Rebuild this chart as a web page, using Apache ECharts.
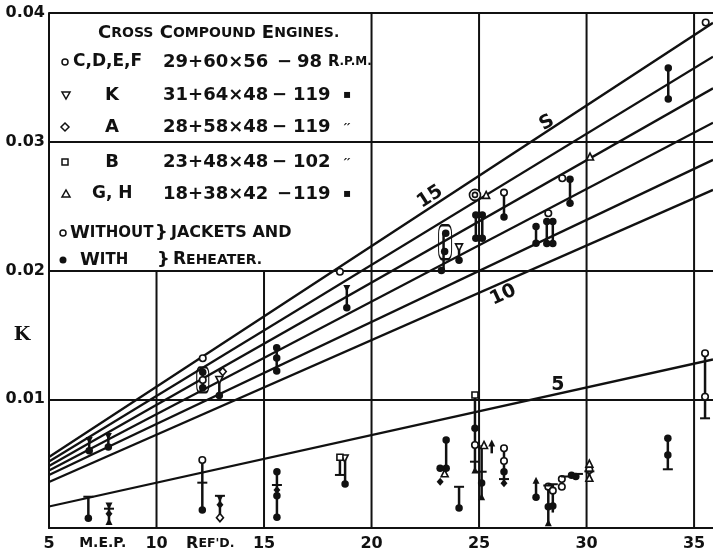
<!DOCTYPE html>
<html><head><meta charset="utf-8">
<script src="https://cdn.jsdelivr.net/npm/echarts@6/dist/echarts.min.js"></script>
<style>html,body{margin:0;padding:0;background:#fff}#c{width:713px;height:553px}</style>
</head><body><div id="c"></div>
<script>
// ---------- DATA ----------
const xTickLabels = {5:'5', 7.5:'M.E.P.', 10:'10', 12.5:"REF'D.", 15:'15', 20:'20', 25:'25', 30:'30', 35:'35'};
const yTickLabels = {0.01:'0.01', 0.02:'0.02', 0.03:'0.03', 0.04:'0.04'};
// reference lines (K vs M.E.P.) : value at left end (x=5) and right end of plot
const lineEndX = [5, 35.88];
const lineLeftY  = [0.00552, 0.00517, 0.00482, 0.00447, 0.00412, 0.00357, 0.00167];
const lineRightY = [0.03924, 0.03660, 0.03415, 0.03147, 0.02859, 0.02626, 0.01309];
// vertical grid lines: x position and top value
const gridX   = [10, 15, 20, 25, 30, 35];
const gridTop = [0.02, 0.02, 0.04, 0.04, 0.04, 0.04];
// line annotations
const annText = ['15', 'S', '10', '5'];
const annX = [22.72, 28.16, 26.12, 28.67];
const annY = [0.02572, 0.03147, 0.0181, 0.01111];
// vertical connecting bars [x, yLow, yHigh]
const bars = [
 [6.87,0.0060,0.0068],[7.76,0.0063,0.0071],[6.83,0.00075,0.00243],[7.79,0.0005,0.0017],
 [12.15,0.0109,0.0121],[12.92,0.0103,0.0115],[12.13,0.0014,0.00528],[12.95,0.0008,0.0025],
 [15.59,0.0122,0.0140],[15.6,0.00083,0.00437],[18.85,0.0171,0.0186],[18.53,0.0041,0.0055],[18.77,0.0034,0.0054],
 [23.35,0.0200,0.0229],[24.07,0.0208,0.0218],[24.85,0.02251,0.02432],[25.15,0.02251,0.02432],[26.16,0.02416,0.02605],
 [27.65,0.02212,0.02341],[28.15,0.0221,0.0238],[28.43,0.0221,0.0238],[29.23,0.02523,0.02709],[33.8,0.03333,0.03572],
 [23.47,0.00464,0.00684],[24.07,0.00155,0.0032],[24.81,0.00451,0.01033],[25.12,0.00243,0.00645],[25.59,0.0058,0.0066],
 [26.16,0.0035,0.0062],[27.65,0.00239,0.0037],[28.22,0.0004,0.0033],[28.43,0.0012,0.0034],[30.13,0.0039,0.0050],
 [33.78,0.00456,0.00697],[35.51,0.00852,0.01357]
];
const openCircles = [[12.15,0.01318],[12.15,0.0115],[18.53,0.0199],[26.16,0.02605],[28.22,0.02445],[28.87,0.02717],[35.54,0.03926],
 [12.13,0.00528],[24.81,0.00645],[26.16,0.00619],[26.16,0.0052],[28.22,0.00321],[28.43,0.0029],[28.85,0.0038],[28.85,0.0032],
 [30.13,0.0045],[35.51,0.01357],[35.51,0.0102]];
const filledCircles = [[6.87,0.0060],[7.76,0.0063],[12.15,0.0121],[12.15,0.0109],[12.92,0.0103],[15.59,0.0140],[15.59,0.0132],[15.59,0.0122],
 [18.85,0.0171],[23.45,0.0229],[23.4,0.02147],[23.25,0.0200],[24.07,0.0208],[24.85,0.02432],[24.85,0.02251],[25.15,0.02432],[25.15,0.02251],
 [26.16,0.02416],[27.65,0.02341],[27.65,0.02212],[28.15,0.0238],[28.15,0.0221],[28.43,0.0238],[28.43,0.0221],[29.23,0.02709],[29.23,0.02523],
 [33.8,0.03572],[33.8,0.03333],
 [6.83,0.00075],[12.13,0.0014],[15.6,0.00437],[15.6,0.0025],[15.6,0.00083],[18.77,0.00342],[23.47,0.00684],[23.47,0.00464],[23.19,0.00464],
 [24.07,0.00155],[24.81,0.00775],[25.12,0.0035],[26.16,0.00437],[27.65,0.00239],[28.22,0.00166],[28.43,0.0017],[29.3,0.0041],[29.5,0.0040],
 [33.78,0.00697],[33.78,0.00567]];
const openTriangles = [[25.33,0.02587],[30.16,0.02885],[23.4,0.00425],[25.23,0.00645],[30.13,0.0050],[30.13,0.0039]];
const filledTriangles = [[7.79,0.0005],[24.81,0.00451],[25.12,0.00243],[28.22,0.0004],[27.65,0.0037],[25.59,0.0066]];
const openInvTriangles = [[12.92,0.0115],[24.07,0.0218],[18.75,0.0054]];
const filledInvTriangles = [[6.87,0.0068],[7.76,0.0071],[18.85,0.0186],[7.79,0.0017],[12.95,0.0023]];
const openDiamonds = [[13.08,0.01215],[12.95,0.0008]];
const filledDiamonds = [[7.79,0.0011],[15.6,0.00295],[23.19,0.0036],[26.16,0.00347],[12.95,0.0018]];
const openSquares = [[18.53,0.00549],[24.81,0.01033]];
const crossMarks = [[6.83,0.00243],[7.79,0.0015],[12.13,0.00352],[12.95,0.0025],[15.6,0.00334],[18.53,0.00412],[24.07,0.0032],
 [24.81,0.00515],[25.12,0.00437],[26.16,0.0038],[28.22,0.0033],[28.43,0.0034],[29.05,0.0040],[29.6,0.0042],[30.13,0.0044],
 [33.78,0.00456],[35.51,0.00852]];
const ovalMarks = [[12.15,0.0115],[23.42,0.0222]];
const bullseyeMarks = [[24.81,0.02587]];

// ---------- CHART ----------
const chart = echarts.init(document.getElementById('c'));
const F = 'DejaVu Sans';
const black = '#111';

const series = [];
for (let i = 0; i < lineLeftY.length; i++) {
  series.push({type:'line', data:[[lineEndX[0], lineLeftY[i]],[lineEndX[1], lineRightY[i]]], symbol:'none',
    lineStyle:{color:black, width:2.3}, silent:true, z:2, animation:false});
}
function segRender(width){
  return function(params, api){
    const p1 = api.coord([api.value(0), api.value(1)]);
    const p2 = api.coord([api.value(0), api.value(2)]);
    return {type:'line', shape:{x1:p1[0],y1:p1[1],x2:p2[0],y2:p2[1]}, style:{stroke:black, lineWidth:width}};
  };
}
series.push({type:'custom', data: gridX.map((x,i)=>[x,0,gridTop[i]]), renderItem: segRender(2), encode:{x:0,y:[1,2]}, z:1, silent:true, animation:false});
series.push({type:'custom', data: bars, renderItem: segRender(2.5), encode:{x:0,y:[1,2]}, z:3, silent:true, animation:false});

function sc(data, symbol, size, filled, extra){
  return Object.assign({type:'scatter', data, symbol, symbolSize:size, z:5, animation:false, silent:true,
    itemStyle:{color: filled ? black : '#fff', borderColor:black, borderWidth: filled?0:1.6, opacity:1}}, extra||{});
}
series.push(sc(ovalMarks, 'roundRect', (v,p)=> p.dataIndex===0 ? [12,25] : [13,34], false, {itemStyle:{color:'rgba(0,0,0,0)', borderColor:black, borderWidth:1.6, opacity:1}, z:4}));
series.push(sc(openCircles, 'circle', 6.5, false));
series.push(sc(filledCircles, 'circle', 7.5, true));
series.push(sc(openTriangles, 'triangle', 7, false));
series.push(sc(filledTriangles, 'triangle', 7, true));
series.push(sc(openInvTriangles, 'triangle', 7, false, {symbolRotate:180}));
series.push(sc(filledInvTriangles, 'triangle', 7, true, {symbolRotate:180}));
series.push(sc(openDiamonds, 'diamond', [7,8], false));
series.push(sc(filledDiamonds, 'diamond', [7,8], true));
series.push(sc(openSquares, 'rect', 6, false));
series.push(sc(crossMarks, 'path://M0,4.2H10V5.8H0Z', [10,2], true));
series.push(sc(bullseyeMarks, 'circle', 11, false));
series.push(sc(bullseyeMarks, 'circle', 5, false, {z:6}));
const annRot = [33, 30, 25, 0];
series.push({type:'scatter', data: annText.map((t,i)=>({value:[annX[i],annY[i]], label:{rotate:annRot[i]}})), symbolSize:0, z:6, silent:true, animation:false,
  itemStyle:{opacity:1, color:black},
  label:{show:true, position:'inside', formatter:(p)=>annText[p.dataIndex], color:black, opacity:1, textBorderWidth:0, textBorderColor:'transparent',
    fontFamily:F, fontWeight:'bold', fontSize:19}});

// legend block (text)
const g = [];
function T(x, y, text, size, extra){
  g.push({type:'text', x, y, style:Object.assign({text, fontFamily:F, fontWeight:'bold', fontSize:size, fill:black, align:'left', verticalAlign:'middle'}, extra||{})});
}
const sc2 = (big, small) => ({b:{fontSize:big, fontFamily:F, fontWeight:'bold', fill:black}, s:{fontSize:small, fontFamily:F, fontWeight:'bold', fill:black}});
T(98, 33, '{b|C}{s|ROSS} {b|C}{s|OMPOUND} {b|E}{s|NGINES.}', 18, {rich: sc2(18,14)});
const rowsY = [62, 95, 127, 162, 194];
const rowId = ['C,D,E,F','K','A','B','G, H'];
const rowNum = ['29+60×56','31+64×48','28+58×48','23+48×48','18+38×42'];
const rowRpm = ['98','119','119','102','119'];
const rowMark = ['R.P.M.','▪','״','״','▪'];
rowsY.forEach((y,i)=>{
  if (i===0) T(73, y, rowId[i], 17);
  else if (i===4) T(92, y, rowId[i], 17);
  else T(112, y, rowId[i], 18, {align:'center'});
  T(163, y, rowNum[i], 18);
  T(i===0||i===4 ? 277 : 272, y, '−', 18);
  T(i===0 ? 297 : 293, y, rowRpm[i], 18);
  if (i===0) T(328, y, '{b|R}{s|.P.M.}', 14, {rich: sc2(15,12)});
  else T(347, y, rowMark[i], 12, {align:'center'});
});
T(70, 233, '{b|W}{s|ITHOUT}', 18, {rich: sc2(18,15)});
T(155, 233, '}', 18);
T(171, 233, 'JACKETS AND', 16);
T(80, 260, '{b|W}{s|ITH}', 18, {rich: sc2(18,15)});
T(157, 260, '}', 18);
T(173, 260, '{b|R}{s|EHEATER.}', 17, {rich: sc2(17,14)});
// y-axis title
T(22, 335, 'K', 19, {fontFamily:'DejaVu Serif', align:'center'});
const ls = {stroke:black, lineWidth:1.5, fill:'#fff'};
g.push({type:'circle', shape:{cx:65, cy:62, r:3}, style:ls});
g.push({type:'polygon', shape:{points:[[62,92],[70,92],[66,99]]}, style:ls});
g.push({type:'polygon', shape:{points:[[65,123],[69,127],[65,131],[61,127]]}, style:ls});
g.push({type:'rect', shape:{x:62, y:159, width:6, height:6}, style:ls});
g.push({type:'polygon', shape:{points:[[62,197],[70,197],[66,190]]}, style:ls});
g.push({type:'circle', shape:{cx:63, cy:233, r:3}, style:ls});
g.push({type:'circle', shape:{cx:63, cy:260, r:3.5}, style:{fill:black}});

chart.setOption({
  animation:false,
  backgroundColor:'#fff',
  grid:{left:49, right:0, top:13, bottom:25, containLabel:false, outerBoundsMode:'none'},
  xAxis:{type:'value', min:5, max:35.88, interval:2.5,
    axisLine:{show:true, lineStyle:{color:black, width:2}}, axisTick:{show:false}, splitLine:{show:false},
    axisLabel:{margin:8, color:black, fontFamily:F, fontWeight:'bold', fontSize:16, showMaxLabel:false,
      formatter:(v)=>{ const k = Math.round(v*10)/10; const t = xTickLabels[k]; if (!t) return '';
        if (k===7.5) return '{m|M.E.P.}'; if (k===12.5) return "{b|R}{s|EF'D.}"; return t; },
      rich:{m:{fontSize:14, fontFamily:F, fontWeight:'bold', color:black}, b:{fontSize:16, fontFamily:F, fontWeight:'bold', color:black}, s:{fontSize:12.5, fontFamily:F, fontWeight:'bold', color:black}}}},
  yAxis:{type:'value', min:0, max:0.04, interval:0.01,
    axisLine:{show:true, lineStyle:{color:black, width:2}}, axisTick:{show:false},
    splitLine:{show:true, showMinLine:false, showMaxLine:true, lineStyle:{color:black, width:2}},
    axisLabel:{margin:4, color:black, fontFamily:F, fontWeight:'bold', fontSize:16,
      formatter:(v)=>{ const k = Math.round(v*100)/100; return yTickLabels[k] || ''; }}},
  graphic:{elements:g},
  series
});
</script></body></html>
